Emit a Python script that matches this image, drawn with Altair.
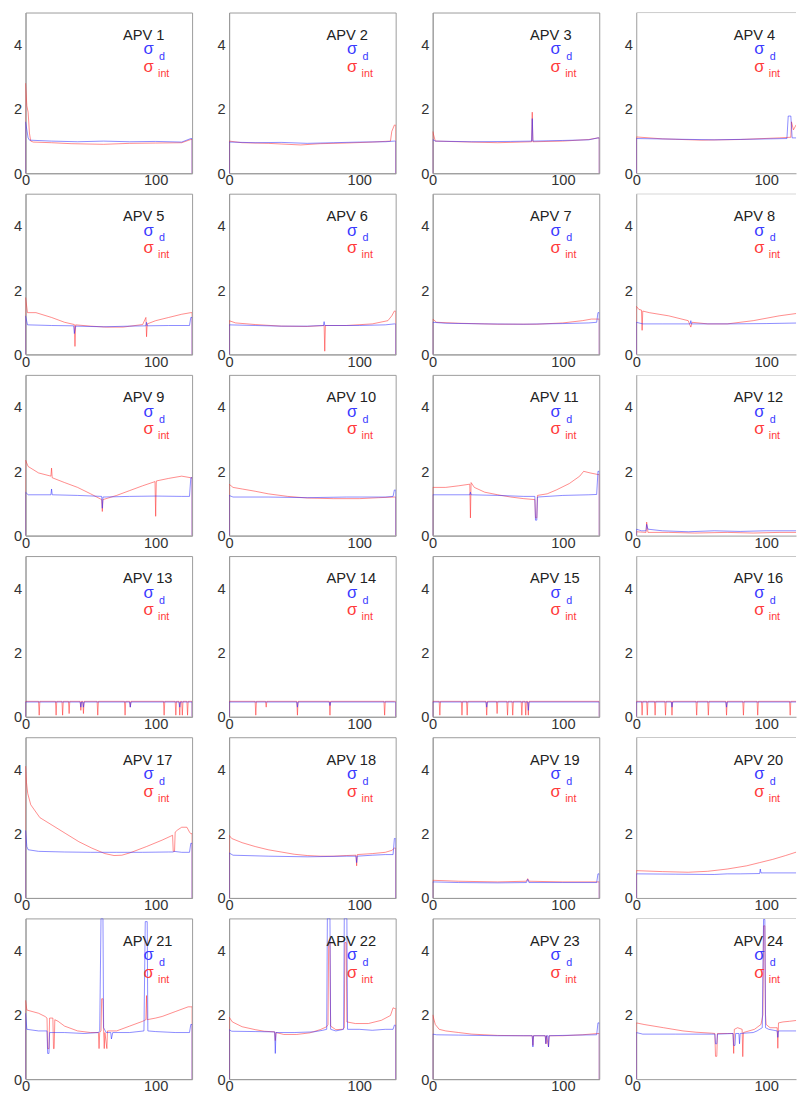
import altair as alt
import pandas as pd

# ---------------- data ----------------
CH_MAX = 128
CH_VISIBLE_LAST_COL = 123.0   # the right-most column is cut off by the picture edge
X_TICKS = [0, 100]
Y_TICKS = [0, 2, 4]
Y_MAX = 5
APV_NAMES = ["APV %d" % n for n in range(1, 25)]
SIGMA_TEXT = ["σ", "d", "int"]

APV1_D = [(0,1.6),(1,1.35),(2,1.1),(3,1.03),(20,1.0),(40,0.98),(60,1.0),(80,0.98),(100,0.99),(120,0.97),(127,1.08)]
APV1_I = [(0,2.8),(1,2.1),(2,1.9),(3,1.25),(4,1.0),(6,0.97),(20,0.95),(35,0.92),(60,0.9),(80,0.93),(100,0.94),(120,0.95),(127,1.05)]
APV2_D = [(0,0.97),(20,0.95),(40,0.96),(60,0.93),(80,0.95),(100,0.97),(120,0.98),(127,1.0)]
APV2_I = [(0,1.0),(10,0.95),(30,0.93),(55,0.88),(70,0.92),(90,0.94),(110,0.97),(124,1.0),(125,1.3),(127,1.5)]
APV3_D = [(0,1.05),(2,1.0),(30,0.98),(60,0.99),(76,1.0),(76.5,1.7),(77,1.0),(100,1.02),(120,1.04),(127,1.1)]
APV3_I = [(0,1.3),(2,1.0),(30,0.97),(50,0.95),(76,0.98),(76.5,1.9),(77,0.98),(100,1.0),(120,1.05),(127,1.1)]
APV4_D = [(0,1.08),(30,1.06),(60,1.04),(90,1.06),(116,1.08),(117,1.78),(119,1.78),(120,1.1),(128,1.1)]
APV4_I = [(0,1.13),(20,1.07),(50,1.03),(80,1.05),(110,1.1),(119,1.12),(119.5,1.6),(121,1.35),(123,1.5),(125,1.6),(128,1.65)]
APV5_D = [(0,1.2),(1.5,0.92),(20,0.9),(37,0.89),(37.5,0.65),(38.5,0.88),(60,0.86),(80,0.88),(92.5,0.89),(93,1.0),(93.5,0.89),(110,0.9),(126,0.9),(127,1.15)]
APV5_I = [(0,1.77),(1.5,1.3),(8,1.3),(20,1.15),(30,1.0),(37.5,0.93),(38,0.25),(38.5,0.92),(50,0.88),(62,0.85),(75,0.85),(90,0.93),(92.5,1.15),(93,0.55),(93.5,0.95),(100,1.05),(110,1.15),(120,1.25),(127,1.3)]
APV6_D = [(0,0.92),(20,0.9),(40,0.88),(60,0.88),(72.5,0.9),(73,1.02),(73.5,0.9),(100,0.9),(120,0.92),(127,0.95)]
APV6_I = [(0,1.05),(5,0.98),(20,0.93),(40,0.88),(60,0.87),(73,0.9),(73.5,0.1),(74,0.9),(90,0.9),(110,0.95),(122,1.05),(125,1.2),(127,1.35)]
APV7_D = [(0,1.0),(10,0.97),(40,0.95),(70,0.94),(100,0.96),(120,0.98),(126,1.0),(127,1.3)]
APV7_I = [(0,1.1),(3,1.0),(20,0.97),(50,0.94),(80,0.94),(100,0.98),(115,1.05),(122,1.1),(127,1.1)]
APV8_D = [(0,1.0),(5,0.95),(20,0.95),(41.5,0.95),(42,1.05),(42.5,0.95),(70,0.95),(100,0.96),(128,0.98)]
APV8_I = [(0,1.5),(2,1.4),(4,1.38),(4.5,0.75),(5,1.35),(10,1.3),(25,1.2),(40,1.05),(42,0.85),(43,1.0),(55,0.95),(70,0.95),(90,1.05),(110,1.2),(128,1.3)]
APV9_D = [(0,1.35),(2,1.27),(19.5,1.27),(20,1.45),(20.5,1.27),(40,1.25),(58.5,1.22),(59,0.85),(59.5,1.2),(80,1.22),(100,1.23),(120,1.22),(126,1.22),(127,1.8)]
APV9_I = [(0,2.35),(2,2.15),(10,1.95),(19.5,1.85),(20,2.1),(20.5,1.8),(30,1.65),(40,1.5),(50,1.3),(58.5,1.12),(59,0.75),(59.5,1.12),(70,1.25),(80,1.4),(90,1.55),(99.5,1.68),(100,0.6),(100.5,1.7),(110,1.78),(120,1.85),(127,1.8)]
APV10_D = [(0,1.25),(3,1.2),(30,1.2),(60,1.18),(90,1.2),(120,1.2),(126,1.22),(127,1.42)]
APV10_I = [(0,1.6),(3,1.5),(10,1.45),(20,1.38),(30,1.3),(45,1.22),(60,1.17),(80,1.15),(100,1.15),(115,1.18),(127,1.2)]
APV11_D = [(0,1.27),(28.5,1.27),(29,1.35),(29.5,1.27),(50,1.25),(70,1.22),(78.5,1.22),(79,0.48),(80,0.48),(80.5,1.2),(100,1.25),(120,1.27),(126,1.28),(127,2.0)]
APV11_I = [(0,1.5),(10,1.5),(20,1.55),(28.5,1.6),(29,0.55),(29.5,1.65),(32,1.5),(40,1.35),(50,1.27),(60,1.2),(70,1.15),(78.5,1.12),(79,0.55),(80,0.55),(80.5,1.25),(88,1.3),(95,1.42),(105,1.62),(113,1.85),(116,2.0),(121,1.95),(127,1.9)]
APV12_D = [(0,0.2),(4,0.15),(7.5,0.15),(8,0.35),(9,0.2),(20,0.15),(40,0.12),(60,0.15),(80,0.13),(100,0.15),(128,0.15)]
APV12_I = [(0,0.12),(7.5,0.1),(8,0.42),(9,0.1),(25,0.1),(45,0.08),(70,0.1),(90,0.08),(110,0.1),(128,0.1)]

# flat panels: base level and (channel, depth) drops
APV13_D_BASE, APV13_I_BASE = 0.46, 0.48
APV13_D_DROPS = [(42,0.3),(44,0.3),(80,0.3),(118,0.3)]
APV13_I_DROPS = [(10,0.05),(23,0.05),(28,0.05),(33,0.1),(42,0.2),(44,0.1),(55,0.05),(76,0.05),(80,0.3),(106,0.05),(115,0.05),(118,0.05),(120,0.05),(124,0.05)]
APV14_D_BASE, APV14_I_BASE = 0.46, 0.48
APV14_D_DROPS = [(52,0.3),(77,0.35)]
APV14_I_DROPS = [(20,0.05),(28,0.3),(52,0.05),(77,0.05),(119,0.05)]
APV15_D_BASE, APV15_I_BASE = 0.46, 0.48
APV15_D_DROPS = [(41,0.3),(73,0.2)]
APV15_I_DROPS = [(5,0.05),(22,0.05),(26,0.05),(41,0.05),(49,0.1),(57,0.05),(61,0.05),(68,0.05),(71,0.05),(73,0.05)]
APV16_D_BASE, APV16_I_BASE = 0.46, 0.48
APV16_D_DROPS = [(27,0.3),(69,0.3)]
APV16_I_DROPS = [(4,0.05),(8,0.05),(14,0.05),(22,0.05),(27,0.05),(46,0.05),(55,0.05),(69,0.05),(82,0.05),(93,0.05),(118,0.05)]

APV17_D = [(0,2.1),(1,1.6),(2,1.5),(10,1.45),(30,1.43),(50,1.42),(70,1.42),(90,1.42),(110,1.43),(113.5,1.43),(114,1.45),(120,1.42),(126,1.42),(127,1.7)]
APV17_I = [(0,4.1),(0.7,3.6),(1.7,3.25),(4,2.9),(11,2.5),(21,2.25),(31,2.0),(41,1.75),(51,1.55),(61,1.38),(68,1.32),(74,1.33),(80,1.4),(93,1.6),(105,1.8),(113,1.95),(113.5,1.45),(114.5,1.45),(115,2.05),(117,2.12),(120,2.2),(124,2.2),(126,2.05),(127,2.0)]
APV18_D = [(0,1.4),(3,1.33),(30,1.3),(60,1.28),(90,1.3),(97.5,1.3),(98,1.1),(98.5,1.3),(110,1.33),(120,1.35),(126,1.35),(127,1.85)]
APV18_I = [(0,1.95),(2,1.85),(10,1.72),(20,1.6),(30,1.5),(40,1.43),(50,1.36),(60,1.32),(70,1.3),(80,1.3),(90,1.32),(97.5,1.33),(98,1.0),(98.5,1.35),(110,1.38),(120,1.42),(125,1.48),(127,1.55)]
APV19_D = [(0,0.5),(20,0.48),(50,0.47),(72,0.48),(73,0.58),(74,0.48),(100,0.48),(126,0.48),(127,0.75)]
APV19_I = [(0,0.55),(20,0.52),(50,0.5),(72,0.52),(73,0.6),(74,0.52),(100,0.5),(127,0.5)]
APV20_D = [(0,0.75),(30,0.74),(60,0.73),(70,0.75),(80,0.75),(95,0.76),(95.5,0.9),(96,0.78),(128,0.78)]
APV20_I = [(0,0.85),(20,0.82),(40,0.8),(55,0.83),(70,0.9),(85,1.0),(95,1.1),(105,1.2),(115,1.32),(125,1.45),(128,1.5)]
APV21_D = [(0,2.05),(1,1.55),(10,1.5),(16.5,1.5),(17,0.8),(18,0.8),(18.5,1.45),(30,1.45),(45,1.42),(56,1.45),(57,1.5),(58,5.0),(59.5,5.0),(60,1.6),(62,1.45),(65.5,1.45),(66,1.25),(67,1.45),(80,1.45),(91,1.5),(92,4.9),(93.5,4.9),(94,1.5),(100,1.48),(115,1.45),(126,1.45),(127,1.7)]
APV21_I = [(0,2.45),(1,2.15),(10,2.05),(15,1.95),(16.5,1.9),(17,0.95),(18,0.95),(18.5,1.9),(21,1.9),(21.5,0.95),(22,0.95),(22.5,1.85),(25,1.8),(30,1.65),(40,1.5),(50,1.45),(56,1.45),(56.5,0.95),(57,1.45),(58,1.5),(58.5,2.5),(59.5,2.5),(60,1.5),(60.5,0.95),(61,1.45),(62.5,0.95),(63,1.5),(65,1.5),(70,1.5),(80,1.65),(90,1.8),(92.5,1.85),(93,2.6),(93.5,1.85),(100,1.9),(105,1.95),(115,2.1),(125,2.25),(127,2.25)]
APV22_D = [(0,1.54),(2,1.49),(20,1.48),(35,1.47),(35.5,0.8),(36,1.45),(50,1.45),(65,1.47),(72,1.52),(75,1.55),(75.5,5.0),(77.5,5.0),(78,1.55),(82,1.5),(88,1.55),(88.5,5.0),(90.5,5.0),(91,1.55),(100,1.55),(110,1.52),(120,1.55),(126,1.55),(127,1.68)]
APV22_I = [(0,1.93),(2.5,1.78),(10,1.63),(20,1.54),(27,1.49),(35,1.47),(35.5,1.2),(36,1.45),(42,1.39),(52,1.39),(62,1.44),(70,1.54),(75,1.63),(76,1.7),(76.5,4.25),(77.5,4.25),(78,1.65),(82,1.54),(87,1.55),(88.5,1.6),(89,4.25),(90,4.25),(90.5,1.78),(97,1.73),(107,1.73),(117,1.83),(124,1.98),(126,2.22),(127,2.2)]
APV23_D = [(0,1.4),(3,1.38),(20,1.37),(50,1.35),(76.5,1.35),(77,1.0),(77.5,1.35),(86.5,1.35),(87,1.1),(87.5,1.35),(88.5,1.35),(89,1.0),(89.5,1.35),(110,1.37),(126,1.38),(127,1.75)]
APV23_I = [(0,2.0),(2,1.7),(5,1.55),(10,1.5),(20,1.45),(30,1.4),(50,1.36),(70,1.35),(76.5,1.35),(77,1.05),(77.5,1.35),(86.5,1.35),(87,1.1),(87.5,1.35),(89,1.0),(89.5,1.35),(100,1.35),(115,1.38),(127,1.42)]
APV24_D = [(0,1.45),(5,1.4),(30,1.4),(60.5,1.4),(61,1.1),(62,1.1),(62.5,1.4),(74.5,1.42),(75,1.05),(76,1.05),(76.5,1.42),(79,1.42),(79.5,1.1),(80,1.42),(90,1.45),(93,1.5),(97,1.6),(98,4.97),(99,4.97),(99.5,1.6),(102,1.55),(108.5,1.5),(109,1.3),(109.5,1.5),(120,1.5),(128,1.5)]
APV24_I = [(0,1.75),(6,1.7),(21,1.6),(36,1.5),(46,1.46),(58,1.43),(60.5,1.42),(61,0.71),(62,0.71),(62.5,1.42),(70,1.42),(74.5,1.42),(75,0.8),(75.5,1.55),(78,1.6),(81.5,1.55),(82,0.7),(82.5,1.45),(91,1.55),(96,1.7),(97.5,2.0),(98,4.77),(99,4.77),(99.5,2.0),(100,1.7),(103,1.6),(108.5,1.6),(109,0.96),(109.5,1.75),(113,1.78),(118,1.8),(128,1.85)]


def flat(base, drops):
    pts = [(0, base)]
    for c, d in drops:
        pts += [(c, base), (c + 0.5, d), (c + 1, base)]
    pts.append((CH_MAX - 1, base))
    return pts


APV13_D, APV13_I = flat(APV13_D_BASE, APV13_D_DROPS), flat(APV13_I_BASE, APV13_I_DROPS)
APV14_D, APV14_I = flat(APV14_D_BASE, APV14_D_DROPS), flat(APV14_I_BASE, APV14_I_DROPS)
APV15_D, APV15_I = flat(APV15_D_BASE, APV15_D_DROPS), flat(APV15_I_BASE, APV15_I_DROPS)
APV16_D, APV16_I = flat(APV16_D_BASE, APV16_D_DROPS), flat(APV16_I_BASE, APV16_I_DROPS)

SERIES = [
    (APV1_D, APV1_I), (APV2_D, APV2_I), (APV3_D, APV3_I), (APV4_D, APV4_I),
    (APV5_D, APV5_I), (APV6_D, APV6_I), (APV7_D, APV7_I), (APV8_D, APV8_I),
    (APV9_D, APV9_I), (APV10_D, APV10_I), (APV11_D, APV11_I), (APV12_D, APV12_I),
    (APV13_D, APV13_I), (APV14_D, APV14_I), (APV15_D, APV15_I), (APV16_D, APV16_I),
    (APV17_D, APV17_I), (APV18_D, APV18_I), (APV19_D, APV19_I), (APV20_D, APV20_I),
    (APV21_D, APV21_I), (APV22_D, APV22_I), (APV23_D, APV23_I), (APV24_D, APV24_I),
]

# ---------------- styling ----------------
W, H = 171, 165
W_LAST = 164
FONT = "Liberation Sans"
BLUE, RED = "#2b2bff", "#ff2b2b"
FRAME = "#9a9a9a"


def outline(pts):
    rows = [(0.0, 0.0)] + list(pts) + [(CH_MAX, pts[-1][1]), (CH_MAX, 0.0)]
    return pd.DataFrame({"x": [r[0] for r in rows], "y": [r[1] for r in rows],
                         "i": list(range(len(rows)))})


def line(pts, color, xmax):
    return alt.Chart(outline(pts)).mark_line(
        color=color, strokeWidth=1, opacity=0.55, clip=True, interpolate="linear"
    ).encode(
        x=alt.X("x:Q", scale=alt.Scale(domain=[0, xmax], nice=False, zero=False), title=None,
                axis=alt.Axis(values=X_TICKS, labelFlush=False, ticks=False, labelPadding=0)),
        y=alt.Y("y:Q", scale=alt.Scale(domain=[0, Y_MAX], nice=False), title=None,
                axis=alt.Axis(values=Y_TICKS, labelFlush=False, ticks=False, labelPadding=4)),
        order=alt.Order("i:Q"),
    )


def label(txt, x, y, size, color):
    return alt.Chart(pd.DataFrame({"t": [txt]})).mark_text(
        align="left", baseline="alphabetic", font=FONT, fontSize=size, color=color
    ).encode(text="t:N", x=alt.value(x), y=alt.value(y))


def panel(k):
    d, i = SERIES[k]
    last_col = (k % 4 == 3)
    xmax = CH_VISIBLE_LAST_COL if last_col else CH_MAX
    layers = [
        line(i, RED, xmax),
        line(d, BLUE, xmax),
        label(APV_NAMES[k], 100, 28, 15, "#222222"),
        label(SIGMA_TEXT[0], 121, 43, 17, "#3a3aff"),
        label(SIGMA_TEXT[1], 137, 49, 11, "#3a3aff"),
        label(SIGMA_TEXT[0], 121, 61, 17, "#ff3a3a"),
        label(SIGMA_TEXT[2], 136, 66, 11, "#ff3a3a"),
    ]
    if last_col:
        top = alt.Chart(pd.DataFrame({"t": [0]})).mark_rule(
            color=FRAME, strokeWidth=1, clip=True
        ).encode(x=alt.datum(0), x2=alt.datum(CH_MAX), y=alt.datum(Y_MAX))
        layers.append(top)
        return alt.layer(*layers).properties(
            width=W_LAST, height=H, view=alt.ViewBackground(stroke="transparent"))
    return alt.layer(*layers).properties(width=W, height=H)


rows = [alt.hconcat(*[panel(r * 4 + c) for c in range(4)], spacing=24)
        for r in range(6)]

chart = alt.vconcat(*rows, spacing=4).properties(
    padding={"left": 5, "top": -11, "right": 0, "bottom": 0}
).configure_view(
    stroke=FRAME, strokeWidth=1
).configure_axis(
    grid=False, domainColor=FRAME, labelFont=FONT, labelFontSize=15, labelColor="#333333"
)

chart.save("out.html", embed_options={"renderer": "svg", "actions": False})
